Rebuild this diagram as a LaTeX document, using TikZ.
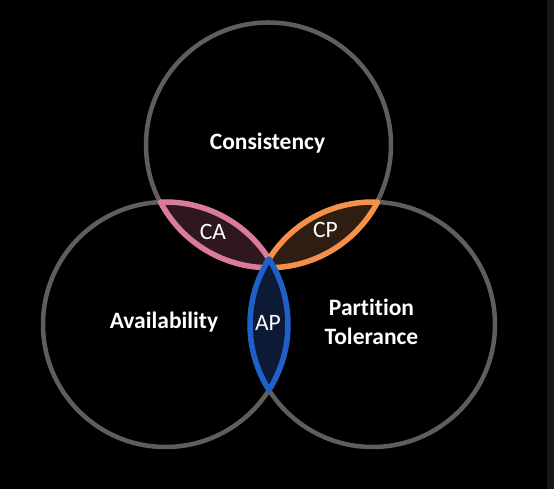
\documentclass[tikz,border=0pt]{standalone}
\usepackage{fontspec}
\setmainfont[Ligatures={NoCommon,NoDiscretionary}]{Carlito}
\usetikzlibrary{positioning}
\definecolor{ringgray}{HTML}{5F5F5A}
\definecolor{capink}{HTML}{D97A9E}
\definecolor{cafill}{HTML}{2E171D}
\definecolor{cporange}{HTML}{F5904A}
\definecolor{cpfill}{HTML}{2E1D10}
\definecolor{apblue}{HTML}{1F60C8}
\definecolor{apfill}{HTML}{0C1A36}
\definecolor{edgestrip}{HTML}{151515}

\begin{document}
\begin{tikzpicture}[
    x=1pt,y=1pt,
    every node/.style={font=\fontsize{23.5}{29}\selectfont,text=white,align=center},
    title/.style={font=\fontsize{23.5}{29}\selectfont\bfseries},
    ring/.style={draw=ringgray,line width=4.5pt},
    lens/.style={line width=5.5pt,line join=round},
]
% background
\fill[black] (0,0) rectangle (554,489);
\fill[edgestrip] (547,0) rectangle (554,489);
\useasboundingbox (0,0) rectangle (554,489);

\def\rad{122.5}
\pgfmathsetmacro\half{acos(103.5/122.5)}

% centres of the three sets
\coordinate (C) at (268.5,344);
\coordinate (A) at (165.5,164.5);
\coordinate (P) at (372.5,164.5);

% the three rings
\draw[ring] (C) circle (\rad);
\draw[ring] (A) circle (\rad);
\draw[ring] (P) circle (\rad);

% --- pairwise overlaps
% CA
\draw[lens,draw=capink,fill=cafill]
    (A) ++(60+\half:\rad) arc[start angle=60+\half,end angle=60-\half,radius=\rad]
    arc[start angle=240+\half,end angle=240-\half,radius=\rad] -- cycle;
% CP
\draw[lens,draw=cporange,fill=cpfill]
    (P) ++(120-\half:\rad) arc[start angle=120-\half,end angle=120+\half,radius=\rad]
    arc[start angle=300-\half,end angle=300+\half,radius=\rad] -- cycle;
% AP
\draw[lens,draw=apblue,fill=apfill]
    (A) ++(\half:\rad) arc[start angle=\half,end angle=-\half,radius=\rad]
    arc[start angle=180+\half,end angle=180-\half,radius=\rad] -- cycle;

% labels
\node[title] (cons) at (267.5,346) {Consistency};
\node[title] (avail) at (164,167) {Availability};
\node[title] (part) at (371.5,167) {Partition\\Tolerance};
\node (ca) at (213,257) {CA};
\node (cp) at (325.5,259) {CP};
\node (ap) at (268,166) {AP};
\end{tikzpicture}
\end{document}
